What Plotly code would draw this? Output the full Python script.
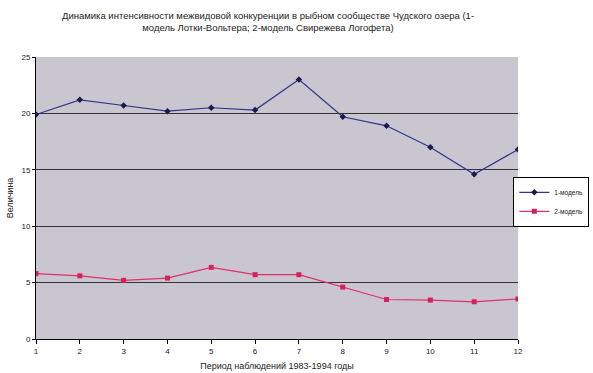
import plotly.graph_objects as go

periods = [1, 2, 3, 4, 5, 6, 7, 8, 9, 10, 11, 12]
model1 = [19.9, 21.2, 20.7, 20.2, 20.5, 20.3, 23.0, 19.7, 18.9, 17.0, 14.6, 16.8]
model2 = [5.8, 5.6, 5.2, 5.4, 6.35, 5.7, 5.7, 4.6, 3.5, 3.45, 3.3, 3.55]
y_ticks = [0, 5, 10, 15, 20, 25]

title_text = ("Динамика интенсивности межвидовой конкуренции в рыбном сообществе Чудского озера (1-<br>"
              "модель Лотки-Вольтера; 2-модель Свирежева Логофета)")

fig = go.Figure()
fig.add_trace(go.Scatter(x=periods, y=model1, mode="lines+markers", name="1-модель",
                         line=dict(color="#33338a", width=1.2),
                         marker=dict(symbol="diamond", size=5, color="#1a1a50")))
fig.add_trace(go.Scatter(x=periods, y=model2, mode="lines+markers", name="2-модель",
                         line=dict(color="#e0306a", width=1.2),
                         marker=dict(symbol="square", size=5, color="#d8205a")))

fig.update_layout(
    width=593, height=373,
    margin=dict(l=36, r=75, t=57, b=34, autoexpand=False),
    paper_bgcolor="white", plot_bgcolor="#c9c6d0",
    font=dict(family="Liberation Sans, Arial, sans-serif", size=8, color="#222"),
    title=dict(text=title_text, x=0.452, xanchor="center", y=0.95, yanchor="top",
               font=dict(size=9.5, color="#222")),
    showlegend=True,
    legend=dict(x=1.148, y=0.575, xanchor="right", yanchor="top",
                bgcolor="white", bordercolor="black", borderwidth=1,
                font=dict(size=6.5), itemwidth=30, tracegroupgap=0),
    xaxis=dict(range=[1, 12], tickvals=periods, showgrid=False, zeroline=False,
               showline=True, linecolor="black", linewidth=1, automargin=False,
               ticks="outside", ticklen=4, tickcolor="black",
               title=dict(text="Период наблюдений 1983-1994 годы", standoff=8,
                          font=dict(size=9))),
    yaxis=dict(range=[0, 25], tickvals=y_ticks, showgrid=True, gridcolor="#333",
               gridwidth=1, zeroline=False, showline=True, linecolor="black",
               linewidth=1, ticks="outside", ticklen=3, tickcolor="black",
               automargin=False,
               title=dict(text="Величина", standoff=6, font=dict(size=9))),
)

fig.write_html("out.html", config={"displayModeBar": False},
               post_script="document.body.style.margin='0';document.body.style.overflow='hidden';")
